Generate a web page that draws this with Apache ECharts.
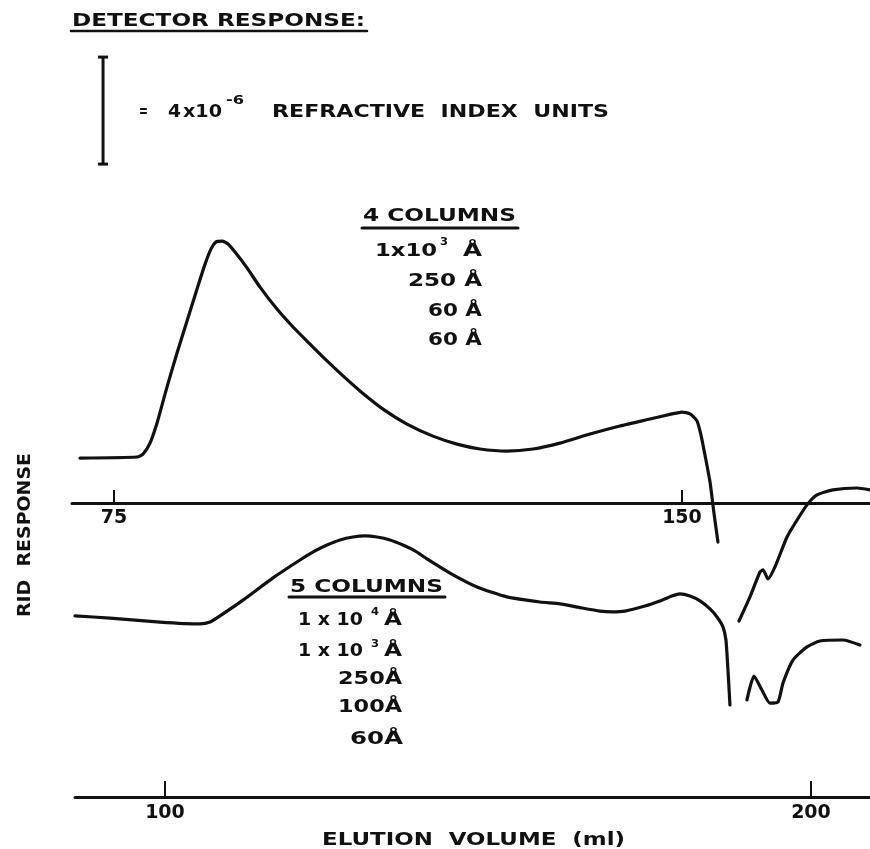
<!DOCTYPE html>
<html>
<head>
<meta charset="utf-8">
<title>RID response vs elution volume</title>
<script src="https://cdn.jsdelivr.net/npm/echarts@6/dist/echarts.min.js"></script>
<style>
  html, body { margin: 0; padding: 0; background: #fff; }
  #chart { width: 870px; height: 849px; }
</style>
</head>
<body>
<div id="chart"></div>
<script>
// Elution volume (ml) and detector response (units of 1e-6 RI units, relative to each trace's axis)
const upperTrace = [
  [70.51, 1.68], [78.04, 1.72], [78.83, 1.83], [79.75, 2.24], [80.68, 2.99], [82.00, 4.34],
  [83.32, 5.61], [84.64, 6.80], [85.96, 8.00], [87.02, 8.93], [87.81, 9.50], [88.47, 9.76],
  [89.26, 9.79], [90.05, 9.68], [90.98, 9.38], [92.56, 8.79], [94.28, 8.07], [96.52, 7.25],
  [98.64, 6.58], [100.88, 5.94], [103.13, 5.31], [105.24, 4.75], [107.48, 4.19], [110.52, 3.51],
  [113.69, 2.95], [117.12, 2.50], [120.29, 2.20], [123.33, 2.02], [126.89, 1.94], [130.33, 2.02],
  [133.89, 2.24], [137.85, 2.58], [141.81, 2.88], [145.77, 3.14], [148.68, 3.33], [150.00, 3.40],
  [151.06, 3.33], [151.98, 3.07], [152.51, 2.54], [153.04, 1.79], [153.70, 0.79], [154.22, -0.37],
  [154.75, -1.46]
];
const upperTail = [
  [157.53, -4.41], [158.98, -3.51], [160.30, -2.58], [160.70, -2.50], [161.36, -2.84],
  [162.28, -2.39], [163.87, -1.27], [165.19, -0.64], [166.51, -0.07], [167.83, 0.30],
  [169.94, 0.49], [173.11, 0.56], [174.83, 0.49]
];
const lowerTrace = [
  [86.07, 6.77], [91.49, 6.69], [99.23, 6.54], [105.42, 6.47], [106.97, 6.54], [108.51, 6.77],
  [112.07, 7.36], [116.72, 8.19], [120.90, 8.86], [123.22, 9.20], [125.08, 9.42], [127.09, 9.61],
  [129.10, 9.72], [130.96, 9.76], [132.82, 9.72], [134.83, 9.61], [136.84, 9.42], [138.70, 9.20],
  [140.56, 8.90], [144.12, 8.37], [148.30, 7.85], [152.94, 7.48], [158.05, 7.29], [161.15, 7.22],
  [164.24, 7.08], [167.34, 6.95], [169.20, 6.92], [171.21, 6.95], [174.30, 7.14], [176.63, 7.33],
  [178.48, 7.51], [179.72, 7.59], [181.27, 7.51], [182.82, 7.33], [184.37, 7.03], [185.45, 6.73],
  [186.38, 6.36], [186.84, 5.87], [187.15, 4.75], [187.46, 3.44]
];
const lowerTail = [
  [190.09, 3.63], [191.18, 4.52], [192.41, 4.00], [193.65, 3.51], [194.89, 3.55], [195.67, 4.26],
  [197.21, 5.12], [199.38, 5.61], [201.39, 5.83], [204.95, 5.87], [207.59, 5.68]
];
// Tick labels of the two volume scales
const upperTicks = [75, 150];
const lowerTicks = [100, 200];
// Detector-response scale bar: 4 x 1e-6 RI units
const scaleBar = [[73.55, 12.67, 16.67]];

const INK = '#111';
const FONT = 'DejaVu Sans';
const WEIGHT = 'bold';

const ctx = document.createElement('canvas').getContext('2d');
function measure(text, size) {
  ctx.font = WEIGHT + ' ' + size + 'px "' + FONT + '"';
  return ctx.measureText(text).width;
}
// Text stretched horizontally so that it spans x0..x1 (the lettering is wider than the font)
function fitText(text, x0, x1, cy, size) {
  const w = measure(text, size);
  return {
    type: 'text', x: x0, y: cy, scaleX: (x1 - x0) / w, silent: true,
    style: {
      text: text, fontSize: size, fontFamily: FONT, fontWeight: WEIGHT, fill: INK,
      align: 'left', verticalAlign: 'middle', textAlign: 'left', textVerticalAlign: 'middle'
    }
  };
}
function rule(x0, x1, y, w) {
  return { type: 'line', silent: true, shape: { x1: x0, y1: y, x2: x1, y2: y },
           style: { stroke: INK, lineWidth: w || 2.5, lineCap: 'round' } };
}

const graphics = [
  fitText('DETECTOR RESPONSE:', 72, 365, 21, 18),
  rule(71, 367, 31, 2.5),

  fitText('=', 139, 148, 113, 17),
  fitText('4', 168, 181, 112, 18),
  fitText('x10', 183, 222, 112, 18),
  fitText('-6', 226, 244, 101, 12),
  fitText('REFRACTIVE  INDEX  UNITS', 272, 609, 112, 18),

  fitText('4 COLUMNS', 363, 516, 216, 18),
  rule(362, 518, 228, 3),
  fitText('1x10', 375, 437, 251, 18),
  fitText('3', 440, 448, 242, 11),
  fitText('Å', 463, 482, 251, 18),
  fitText('250 Å', 408, 482, 281, 18),
  fitText('60 Å', 428, 482, 311, 18),
  fitText('60 Å', 428, 482, 340, 18),

  fitText('5 COLUMNS', 290, 443, 587, 18),
  rule(289, 445, 597, 3),
  fitText('1 x 10', 298, 363, 620, 18),
  fitText('4', 371, 379, 612, 11),
  fitText('Å', 384, 402, 620, 18),
  fitText('1 x 10', 298, 363, 651, 18),
  fitText('3', 371, 379, 644, 11),
  fitText('Å', 384, 402, 651, 18),
  fitText('250Å', 338, 402, 679, 18),
  fitText('100Å', 338, 402, 707, 18),
  fitText('60Å', 350, 403, 739, 18),

  fitText('ELUTION  VOLUME  (ml)', 322, 625, 840, 18),
];
// Rotated y-axis title, stretched along its reading direction
(function () {
  const t = 'RID  RESPONSE';
  const w = measure(t, 18);
  graphics.push({
    type: 'text', x: 25, y: 535, rotation: Math.PI / 2, scaleX: 164 / w, silent: true,
    style: { text: t, fontSize: 18, fontFamily: FONT, fontWeight: WEIGHT, fill: INK,
             align: 'center', verticalAlign: 'middle', textAlign: 'center', textVerticalAlign: 'middle' }
  });
})();

function volumeAxis(gridIndex, min, max, ticks, tickLen, margin) {
  return {
    type: 'value', gridIndex: gridIndex, min: min, max: max,
    axisLine: { show: true, onZero: false, lineStyle: { color: INK, width: 3 } },
    axisTick: { show: true, inside: true, length: tickLen, customValues: ticks,
                lineStyle: { color: INK, width: 2 } },
    axisLabel: { show: true, customValues: ticks, margin: margin, color: INK,
                 fontSize: 19, fontWeight: WEIGHT, fontFamily: FONT },
    splitLine: { show: false }
  };
}
function responseAxis(gridIndex, min, max) {
  return { type: 'value', gridIndex: gridIndex, min: min, max: max, show: false,
           splitLine: { show: false } };
}
function trace(data, xi, yi) {
  return {
    type: 'line', xAxisIndex: xi, yAxisIndex: yi, data: data, clip: false,
    showSymbol: false, symbol: 'none', smooth: 0.2, silent: true,
    lineStyle: { color: INK, width: 3.2, cap: 'round', join: 'round' }
  };
}

const chart = echarts.init(document.getElementById('chart'), null, { renderer: 'canvas' });
chart.setOption({
  animation: false,
  backgroundColor: '#fff',
  grid: [
    // upper trace: axis line at response 0, 26.75 px per unit
    { left: 72, right: 0, top: 21.5, bottom: 346 },
    { left: 75, right: 0, top: 476, bottom: 52 }
  ],
  xAxis: [
    volumeAxis(0, 69.45, 174.83, upperTicks, 13, 6),
    volumeAxis(1, 86.07, 209.14, lowerTicks, 16, 7)
  ],
  yAxis: [
    responseAxis(0, 0, 18),
    responseAxis(1, 0, 12)
  ],
  series: [
    trace(upperTrace, 0, 0),
    trace(upperTail, 0, 0),
    trace(lowerTrace, 1, 1),
    trace(lowerTail, 1, 1),
    {
      type: 'custom', xAxisIndex: 0, yAxisIndex: 0, data: scaleBar, silent: true,
      renderItem: function (params, api) {
        const lo = api.coord([api.value(0), api.value(1)]);
        const hi = api.coord([api.value(0), api.value(2)]);
        const s = { stroke: INK, lineWidth: 3 };
        return { type: 'group', children: [
          { type: 'line', shape: { x1: lo[0], y1: lo[1], x2: hi[0], y2: hi[1] }, style: s },
          { type: 'line', shape: { x1: lo[0] - 5, y1: lo[1], x2: lo[0] + 5, y2: lo[1] }, style: s },
          { type: 'line', shape: { x1: hi[0] - 5, y1: hi[1], x2: hi[0] + 5, y2: hi[1] }, style: s }
        ] };
      }
    }
  ],
  graphic: graphics
});
</script>
</body>
</html>
